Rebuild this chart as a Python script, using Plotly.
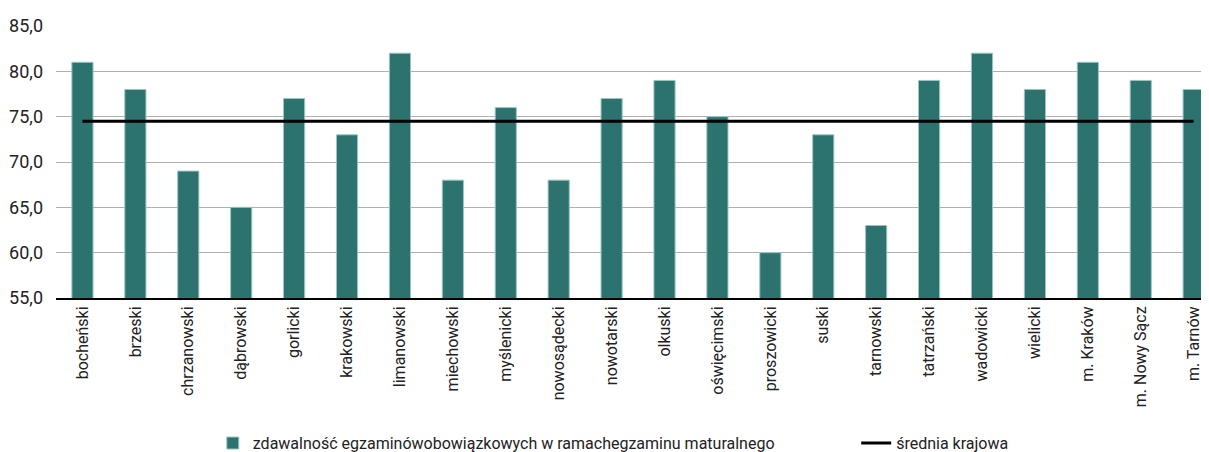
import plotly.graph_objects as go

# powiaty i wartości
powiaty = ['bocheński', 'brzeski', 'chrzanowski', 'dąbrowski', 'gorlicki', 'krakowski',
           'limanowski', 'miechowski', 'myślenicki', 'nowosądecki', 'nowotarski', 'olkuski',
           'oświęcimski', 'proszowicki', 'suski', 'tarnowski', 'tatrzański', 'wadowicki',
           'wielicki', 'm. Kraków', 'm. Nowy Sącz', 'm. Tarnów']
zdawalnosc = [81, 78, 69, 65, 77, 73, 82, 68, 76, 68, 77, 79, 75, 60, 73, 63, 79, 82, 78, 81, 79, 78]
srednia_krajowa = [74.5] * len(powiaty)

font_name = 'Roboto, sans-serif'

fig = go.Figure()

fig.add_trace(go.Bar(
    x=powiaty, y=zdawalnosc,
    name='zdawalność egzaminówobowiązkowych w ramachegzaminu maturalnego',
    marker=dict(color='#2c7370', line=dict(color='#9cc5c2', width=1)),
    width=0.4,
    legend='legend',
))

fig.add_trace(go.Scatter(
    x=powiaty, y=srednia_krajowa, mode='lines',
    name='średnia krajowa',
    line=dict(color='black', width=3),
    legend='legend2',
))

# strona ma domyślny margines 8px, więc wykres jest o tyle mniejszy
fig.update_layout(
    width=1201, height=444,
    margin=dict(l=48, r=0, t=18, b=154),
    plot_bgcolor='white', paper_bgcolor='white',
    font=dict(family=font_name, size=16, color='#222'),
    separators=',.',
    showlegend=True,
    legend=dict(orientation='h', x=0.136, y=0.02, xanchor='left', yanchor='middle',
                yref='container', font=dict(size=16)),
    legend2=dict(orientation='h', x=0.694, y=0.02, xanchor='left', yanchor='middle',
                 yref='container', font=dict(size=16)),
)

fig.update_xaxes(
    range=[-0.5, 21.29], tickangle=-90, showline=True, linecolor='black', linewidth=2,
    ticks='', showgrid=False, automargin=False, tickfont=dict(size=16),
)
fig.update_yaxes(
    range=[55, 85], dtick=5, tickformat='.1f', showgrid=True, gridcolor='#b0b0b0',
    gridwidth=1, zeroline=False, ticks='', automargin=False, tickfont=dict(size=18),
    ticklabelstandoff=12,
)

fig.write_html('out.html')
